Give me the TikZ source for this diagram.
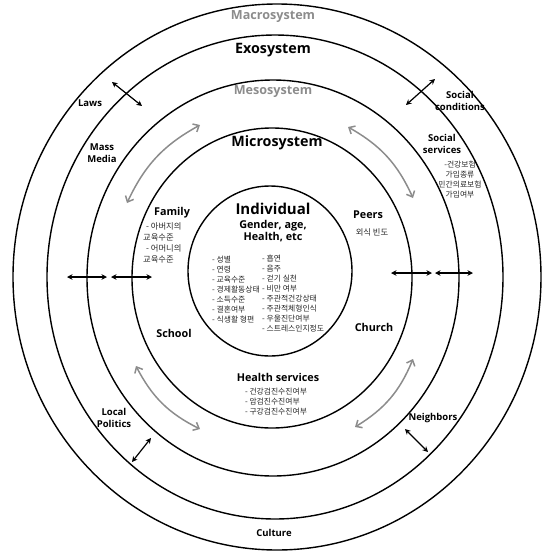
\documentclass[tikz,border=0pt]{standalone}
\usepackage{fontspec}
\setmainfont{Open Sans}
\newfontfamily\krfont{Noto Sans CJK KR}
\usepackage{tikz}
\usetikzlibrary{arrows.meta,positioning,calc}
\definecolor{ringgray}{gray}{0.55}
\tikzset{
  ecoring/.style={draw=black, line width=1.4pt},
  ecotitle/.style={font=\bfseries\fontsize{14.3}{16}\selectfont, inner sep=1pt},
  ecosub/.style={ecotitle, text=ringgray, font=\bfseries\fontsize{12.6}{14}\selectfont},
  ecolabel/.style={font=\bfseries\fontsize{9.5}{12}\selectfont, align=center, inner sep=1pt},
  ecomicro/.style={ecolabel, font=\bfseries\fontsize{10.8}{12.5}\selectfont},
  ecolist/.style={font=\krfont\fontsize{7.8}{10}\selectfont, text=black!85, align=left, inner sep=0pt},
  ecoarrow/.style={{Stealth[length=5.5pt,width=5.5pt]}-{Stealth[length=5.5pt,width=5.5pt]}, line width=1.2pt},
  ecolink/.style={{Straight Barb[length=5pt,width=9pt]}-{Straight Barb[length=5pt,width=9pt]},
    line width=1.5pt, draw=ringgray, bend angle=18},
}

\begin{document}
\begin{tikzpicture}[x=1pt, y=-1pt]
  \useasboundingbox (0,0) rectangle (556,558);
  \draw[ecoring] (277,277) ellipse [x radius=264pt, y radius=273pt];
  \draw[ecoring] (275,277) ellipse [x radius=228pt, y radius=242pt];
  \draw[ecoring] (273,278) ellipse [x radius=186pt, y radius=198pt];
  \draw[ecoring] (272,278) ellipse [x radius=140pt, y radius=150pt];
  \draw[ecoring] (270,271) ellipse [x radius=82pt, y radius=85pt];

  \node[ecosub] (macro) at (273,17) {Macrosystem};
  \node[ecotitle] (exo) at (273,50) {Exosystem};
  \node[ecosub] (meso) at (273,92) {Mesosystem};
  \node[ecotitle] (micro) at (277,143) {Microsystem};
  \node[ecotitle, font=\bfseries\fontsize{15}{17}\selectfont] (indiv) at (273,209) {Individual};
  \node[ecomicro, below=3pt of indiv] (indivsub) {Gender, age,\\Health, etc};
  \node[ecolist, anchor=north west] (indivleft) at (212,256)
    {- 성별\\- 연령\\- 교육수준\\- 경제활동상태\\- 소득수준\\- 결혼여부\\- 식생활 형편};
  \node[ecolist, anchor=north west] (indivright) at (262,255)
    {- 흡연\\- 음주\\- 걷기 실천\\- 비만 여부\\- 주관적건강상태\\- 주관적체형인식\\- 우울진단여부\\- 스트레스인지정도};

  \node[ecomicro] (family) at (172,213) {Family};
  \node[ecolist, anchor=north west, font=\krfont\fontsize{8.3}{11}\selectfont] (familylist) at (143,222)
    {\hspace*{3pt}- 아버지의\\교육수준\\\hspace*{3pt}- 어머니의\\교육수준};
  \node[ecomicro] (school) at (174,333) {School};
  \node[ecomicro] (peers) at (368,215) {Peers};
  \node[ecolist, font=\krfont\fontsize{8.3}{10}\selectfont] (peerslist) at (372,232) {외식 빈도};
  \node[ecomicro] (church) at (374,327) {Church};
  \node[ecomicro] (health) at (278,377) {Health services};
  \node[ecolist, below=5pt of health, xshift=-2pt] (healthlist) {- 건강검진수진여부\\- 암검진수진여부\\- 구강검진수진여부};

  \node[ecolabel] (socserv) at (442,144) {Social\\services};
  \node[ecolist, align=center, anchor=north] (socservlist) at (460,161) {-건강보험\\가입종류\\민간의료보험\\가입여부};
  \node[ecolabel] (soccond) at (460,101) {Social\\conditions};
  \node[ecolabel] (laws) at (90,103) {Laws};
  \node[ecolabel] (media) at (102,153) {Mass\\Media};
  \node[ecolabel] (politics) at (114,418) {Local\\Politics};
  \node[ecolabel] (neighbors) at (433,418) {Neighbors};
  \node[ecolabel] (culture) at (274,533) {Culture};

  \coordinate (lawsA) at (112,82);   \coordinate (lawsB) at (142,106);
  \coordinate (condA) at (435,79);   \coordinate (condB) at (406,105);
  \coordinate (localA) at (151,438); \coordinate (localB) at (132,462);
  \coordinate (neighA) at (405,429); \coordinate (neighB) at (428,452);
  \coordinate (westA) at (67,277);   \coordinate (westB) at (107,277);
  \coordinate (westC) at (111,277);  \coordinate (westD) at (152,277);
  \coordinate (eastA) at (391,273);  \coordinate (eastB) at (432,273);
  \coordinate (eastC) at (435,273);  \coordinate (eastD) at (473,273);
  \foreach \a/\b in {lawsA/lawsB, condA/condB, localA/localB, neighA/neighB,
    westA/westB, westC/westD, eastA/eastB, eastC/eastD}
    \draw[ecoarrow] (\a) -- (\b);

  \coordinate (mesoNWa) at (200,125); \coordinate (mesoNWb) at (127,203);
  \coordinate (mesoNEa) at (348,127); \coordinate (mesoNEb) at (413,198);
  \coordinate (mesoSWa) at (136,366); \coordinate (mesoSWb) at (200,429);
  \coordinate (mesoSEa) at (413,359); \coordinate (mesoSEb) at (355,427);
  \draw[ecolink] (mesoNWa) to[bend right] (mesoNWb);
  \draw[ecolink] (mesoNEa) to[bend left] (mesoNEb);
  \draw[ecolink] (mesoSWa) to[bend right] (mesoSWb);
  \draw[ecolink] (mesoSEa) to[bend left] (mesoSEb);
\end{tikzpicture}
\end{document}
